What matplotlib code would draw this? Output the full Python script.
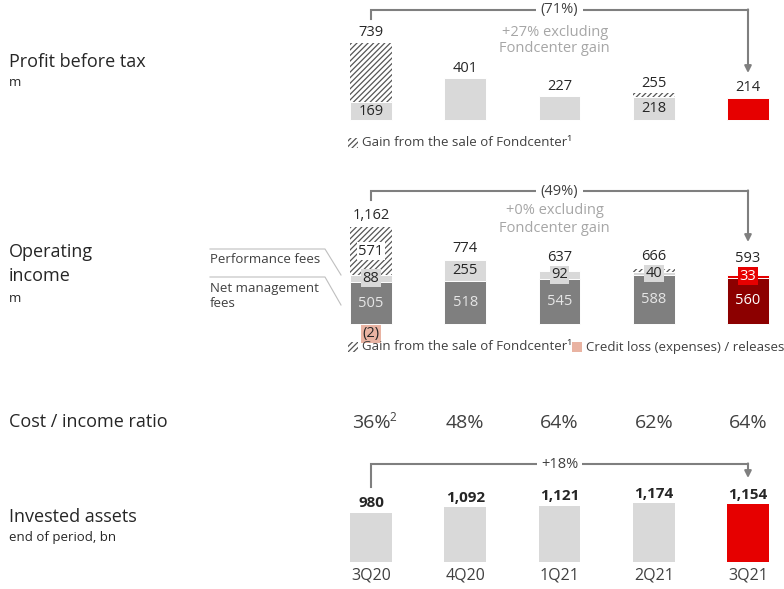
import matplotlib
matplotlib.use('Agg')
import matplotlib.pyplot as plt
from matplotlib.patches import Rectangle
from matplotlib.transforms import blended_transform_factory

plt.rcParams['font.family'] = ['Open Sans', 'DejaVu Sans']
plt.rcParams['hatch.linewidth'] = 0.9

quarters = ['3Q20', '4Q20', '1Q21', '2Q21', '3Q21']

# profit before tax, m
pbt_base = [169, 401, 227, 218, 214]
pbt_gain = [570, 0, 0, 37, 0]
pbt_total = [739, 401, 227, 255, 214]

# operating income, m
nmf = [505, 518, 545, 588, 560]
perf_fees = [88, 255, 92, 40, 33]
oi_gain = [571, 0, 0, 38, 0]
credit_loss = [-2, 0, 0, 0, 0]
oi_total = [1162, 774, 637, 666, 593]

cost_income = ['36%', '48%', '64%', '62%', '64%']
ci_note = ['2', '', '', '', '']

# invested assets, end of period, bn
invested = [980, 1092, 1121, 1174, 1154]

# colours
LGRAY = '#d9d9d9'
DGRAY = '#7f7f7f'
RED = '#e60000'
DRED = '#8c0000'
SALMON = '#e9b3a2'
TXT = '#262626'
SOFT = '#a6a6a6'
LINE = '#7f7f7f'
HATCH = '#555555'

W, H = 784, 589
fig = plt.figure(figsize=(W / 100, H / 100), dpi=100)

# bar centres sit at 371 px and step 94.25 px
step = 94.25
x0 = -371 / step
x1 = (W - 371) / step
xs = list(range(len(quarters)))
bw = 0.445


def fy(y):
    return 1 - y / H


def panel(top, bottom, base, scale):
    ax = fig.add_axes([0, fy(bottom), 1, (bottom - top) / H])
    ax.set_xlim(x0, x1)
    ax.set_ylim(-(bottom - base) / scale, (base - top) / scale)
    ax.axis('off')
    return ax


def bracket(ax, y_line, y_left, y_tip, label, sub=None, sub_y=None):
    tr = blended_transform_factory(ax.transData, fig.transFigure)
    ax.plot([0, 0, 4, 4], [fy(y_left), fy(y_line), fy(y_line), fy(y_line)],
            color=LINE, lw=1.5, transform=tr, clip_on=False, solid_joinstyle='miter')
    ax.annotate('', xy=(4, fy(y_tip)), xytext=(4, fy(y_line) + 0.001),
                xycoords=tr, textcoords=tr,
                arrowprops=dict(arrowstyle='-|>', color=LINE, lw=1.5,
                                mutation_scale=10, shrinkA=0, shrinkB=0))
    mid = 2.0
    ax.text(mid, fy(y_line), label, transform=tr, ha='center', va='center',
            fontsize=10.5, color='#404040',
            bbox=dict(facecolor='white', edgecolor='none', pad=3))
    if sub:
        for k, s in enumerate(sub):
            ax.text(mid - 0.05, fy(sub_y[k]), s, transform=tr, ha='center',
                    va='center', fontsize=10.5, color=SOFT)


def legend_item(x, y, text, hatch=None, color='white'):
    r = Rectangle((x / W, fy(y + 5)), 10 / W, 10 / H, transform=fig.transFigure,
                  facecolor=color, edgecolor=HATCH if hatch else 'none',
                  hatch=hatch, linewidth=0)
    fig.patches.append(r)
    fig.text((x + 14) / W, fy(y), text, ha='left', va='center',
             fontsize=9.5, color='#404040')


# ---------- Profit before tax ----------
s1 = 0.104
ax1 = panel(0, 160, 120, s1)
pbt_col = [LGRAY] * 4 + [RED]
ax1.bar(xs, pbt_gain, bw, bottom=pbt_base, color='white', edgecolor=HATCH,
        hatch='//////', linewidth=0)
ax1.bar(xs, pbt_base, bw, color=pbt_col, edgecolor='white', linewidth=0.7)
for i in xs:
    ax1.annotate(f'{pbt_total[i]:,}', xy=(i, pbt_total[i]), xytext=(0, 2),
                 textcoords='offset points', ha='center', va='bottom',
                 fontsize=10.5, color=TXT)
    if pbt_gain[i] > 0:
        ax1.text(i, pbt_base[i] / 2, f'{pbt_base[i]:,}', ha='center',
                 va='center', fontsize=10.5, color=TXT)
bracket(ax1, 10, 19, 73, '(71%)', ['+27% excluding', 'Fondcenter gain'], [32, 48])
legend_item(348, 143, 'Gain from the sale of Fondcenter\u00b9', hatch='//////')

# ---------- Operating income ----------
s2 = 0.083
ax2 = panel(160, 390, 324, s2)
nmf_col = [DGRAY] * 4 + [DRED]
perf_col = [LGRAY] * 4 + [RED]
gain_bottom = [a + b for a, b in zip(nmf, perf_fees)]
ax2.bar(xs, oi_gain, bw, bottom=gain_bottom, color='white', edgecolor=HATCH,
        hatch='//////', linewidth=0)
ax2.bar(xs, perf_fees, bw, bottom=nmf, color=perf_col, edgecolor='white',
        linewidth=0.7)
ax2.bar(xs, nmf, bw, color=nmf_col, edgecolor='white', linewidth=0.7)
ax2.bar(xs, credit_loss, bw * 0.5, color=SALMON, linewidth=0)
for i in xs:
    top = nmf[i] + perf_fees[i] + oi_gain[i]
    perf_mid = nmf[i] + perf_fees[i] / 2
    # keep the total clear of the boxed performance-fee label
    y_lab = max(top + 4 / s2, perf_mid + 10 / s2)
    ax2.text(i, y_lab, f'{oi_total[i]:,}', ha='center', va='bottom',
             fontsize=10.5, color=TXT)
    ax2.text(i, nmf[i] / 2, f'{nmf[i]:,}', ha='center', va='center',
             fontsize=10.5, color='white' if i == 4 else '#e6e6e6')
    ax2.text(i, perf_mid, f'{perf_fees[i]:,}', ha='center',
             va='center', fontsize=10.5, color='white' if i == 4 else TXT,
             bbox=dict(facecolor=perf_col[i], edgecolor='none', pad=1))
    if oi_gain[i] > 100:
        ax2.text(i, gain_bottom[i] + oi_gain[i] / 2, f'{oi_gain[i]:,}',
                 ha='center', va='center', fontsize=10.5, color=TXT,
                 bbox=dict(facecolor='white', edgecolor='none', pad=1))
    if credit_loss[i] < 0:
        ax2.annotate(f'({-credit_loss[i]})', xy=(i, 0), xytext=(0, -1.5),
                     textcoords='offset points', ha='center', va='top',
                     fontsize=10.5, color=TXT,
                     bbox=dict(facecolor=SALMON, edgecolor='none', pad=1))
bracket(ax2, 191, 200, 242, '(49%)', ['+0% excluding', 'Fondcenter gain'], [211, 229])
legend_item(348, 347, 'Gain from the sale of Fondcenter\u00b9', hatch='//////')
legend_item(572, 347, 'Credit loss (expenses) / releases', color=SALMON)

# side labels for the segments
fig.lines.append(plt.Line2D([210 / W, 325 / W, 341 / W], [fy(249), fy(249), fy(275)],
                            transform=fig.transFigure, color='#bfbfbf', lw=0.8))
fig.lines.append(plt.Line2D([210 / W, 325 / W, 341 / W], [fy(277), fy(277), fy(305)],
                            transform=fig.transFigure, color='#bfbfbf', lw=0.8))
fig.text(210 / W, fy(260), 'Performance fees', fontsize=9.5, va='center', color='#404040')
fig.text(210 / W, fy(296), 'Net management\nfees', fontsize=9.5, va='center',
         color='#404040', linespacing=1.25)

# ---------- Cost / income ratio ----------
ax3 = panel(395, 450, 450, 1.0)
for i in xs:
    ax3.text(i, 27, cost_income[i], ha='center', va='center', fontsize=14,
             color='#404040')
    if ci_note[i]:
        ax3.annotate(ci_note[i], xy=(i + 0.2, 27), xytext=(0, 4),
                     textcoords='offset points', ha='left', va='center',
                     fontsize=8.5, color='#404040')

# ---------- Invested assets ----------
ax4 = panel(440, 589, 562, 0.05)
inv_col = [LGRAY] * 4 + [RED]
ax4.bar(xs, invested, bw, color=inv_col, linewidth=0)
for i in xs:
    ax4.annotate(f'{invested[i]:,}', xy=(i, invested[i]), xytext=(0, 2),
                 textcoords='offset points', ha='center', va='bottom',
                 fontsize=11, fontweight='bold', color=TXT)
    ax4.annotate(quarters[i], xy=(i, 0), xytext=(0, -4),
                 textcoords='offset points', ha='center', va='top',
                 fontsize=11.5, color='#404040')
bracket(ax4, 464, 487, 478, '+18%')

# ---------- row titles ----------
fig.text(9 / W, fy(62), 'Profit before tax', fontsize=13, va='center', color=TXT)
fig.text(9 / W, fy(83), 'm', fontsize=9.5, va='center', color=TXT)
fig.text(9 / W, fy(252), 'Operating', fontsize=13, va='center', color=TXT)
fig.text(9 / W, fy(276), 'income', fontsize=13, va='center', color=TXT)
fig.text(9 / W, fy(298), 'm', fontsize=9.5, va='center', color=TXT)
fig.text(9 / W, fy(422), 'Cost / income ratio', fontsize=13, va='center', color=TXT)
fig.text(9 / W, fy(517), 'Invested assets', fontsize=13, va='center', color=TXT)
fig.text(9 / W, fy(538), 'end of period, bn', fontsize=9.5, va='center', color=TXT)

fig.savefig('out.png', dpi=100)
